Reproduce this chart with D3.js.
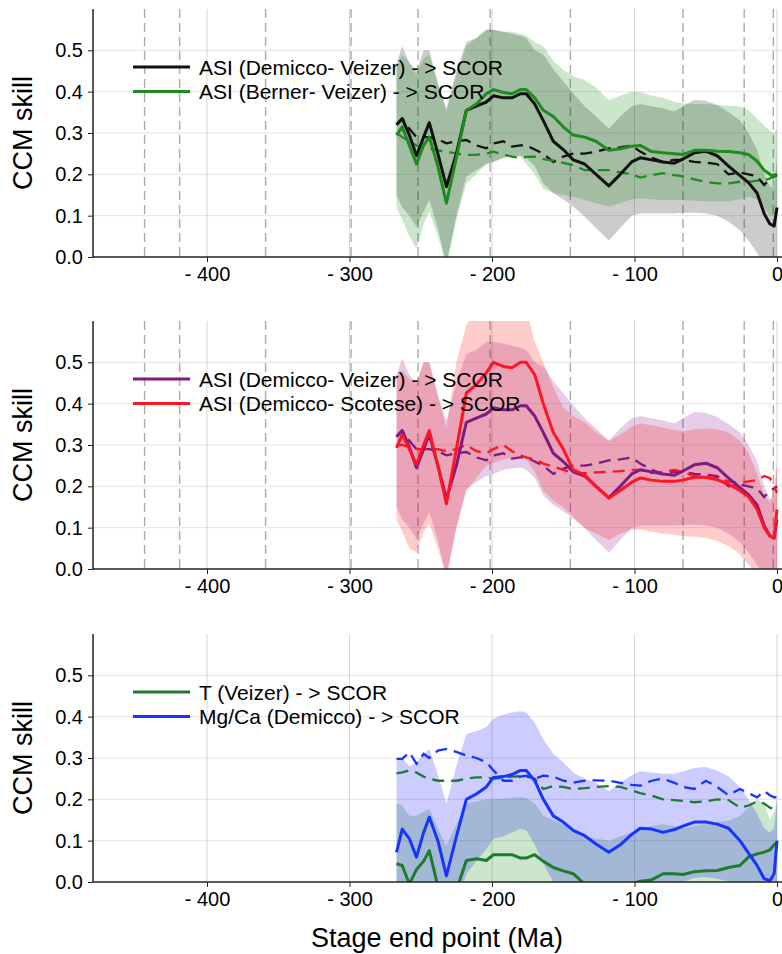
<!DOCTYPE html>
<html>
<head>
<meta charset="utf-8">
<script src="https://cdn.jsdelivr.net/npm/d3@7"></script>
<style>
  body { margin: 0; background: #fff; }
  svg { display: block; font-family: "Liberation Sans", Arial, Helvetica, sans-serif; }
</style>
</head>
<body>
<svg width="782" height="954"></svg>
<script>
// stage end points (Ma, negative = before present)
var stageEnd = [-267, -263, -258, -253, -248, -244, -238, -232, -225, -218,
  -211, -204, -199, -192, -186, -180, -176, -170, -164, -157,
  -150, -143, -135, -127, -118, -110, -102, -96, -88, -80,
  -72, -66, -58, -50, -42, -34, -26, -20, -14, -9,
  -5, -2, 0];

// period boundaries drawn as dashed verticals (top two panels)
var boundaries = [-443.8, -419.2, -358.9, -298.9, -251.9, -201.3, -145.0, -66.0, -23.03, -2.58];

var yTicks = [0, 0.1, 0.2, 0.3, 0.4, 0.5];
var xTicks = [-400, -300, -200, -100, 0];

// ASI (Demicco- Veizer) -> SCOR : skill, null (dashed), band low/high
var dvSkill = [0.32, 0.335, 0.295, 0.245, 0.29, 0.325, 0.25, 0.17, 0.25, 0.355,
  0.365, 0.375, 0.39, 0.385, 0.385, 0.395, 0.395, 0.37, 0.33, 0.28,
  0.26, 0.235, 0.225, 0.2, 0.172, 0.2, 0.23, 0.24, 0.235, 0.23,
  0.227, 0.237, 0.252, 0.256, 0.245, 0.22, 0.197, 0.18, 0.155, 0.105,
  0.08, 0.075, 0.12];
var dvNull = [0.32, 0.335, 0.31, 0.29, 0.29, 0.29, 0.285, 0.275, 0.28, 0.283,
  0.27, 0.263, 0.275, 0.28, 0.267, 0.27, 0.27, 0.26, 0.25, 0.23,
  0.243, 0.25, 0.25, 0.255, 0.263, 0.265, 0.27, 0.255, 0.24, 0.23,
  0.235, 0.235, 0.23, 0.228, 0.225, 0.2, 0.204, 0.2, 0.195, 0.174,
  0.19, 0.195, 0.2];
var dvLo = [0.15, 0.12, 0.1, 0.073, 0.11, 0.138, 0.07, -0.02, 0.1, 0.195,
  0.21, 0.225, 0.23, 0.24, 0.243, 0.245, 0.24, 0.22, 0.178, 0.155,
  0.14, 0.122, 0.098, 0.07, 0.04, 0.07, 0.1, 0.105, 0.105, 0.105,
  0.105, 0.107, 0.107, 0.105, 0.1, 0.085, 0.065, 0.04, 0.01, -0.02,
  -0.04, -0.04, 0.0];
var dvHi = [0.47, 0.51, 0.47, 0.45, 0.5, 0.5, 0.42, 0.36, 0.45, 0.52,
  0.53, 0.55, 0.55, 0.545, 0.54, 0.535, 0.53, 0.5, 0.49, 0.455,
  0.425, 0.396, 0.365, 0.34, 0.31, 0.34, 0.365, 0.37, 0.365, 0.36,
  0.352, 0.365, 0.38, 0.378, 0.368, 0.35, 0.33, 0.3, 0.26, 0.2,
  0.17, 0.17, 0.24];

// ASI (Berner- Veizer) -> SCOR
var bvSkill = [0.295, 0.315, 0.27, 0.225, 0.27, 0.29, 0.22, 0.13, 0.24, 0.355,
  0.37, 0.395, 0.405, 0.398, 0.395, 0.405, 0.405, 0.385, 0.355, 0.34,
  0.315, 0.295, 0.29, 0.28, 0.258, 0.262, 0.268, 0.27, 0.255, 0.252,
  0.25, 0.248, 0.258, 0.258, 0.256, 0.255, 0.252, 0.248, 0.232, 0.21,
  0.2, 0.195, 0.197];
var bvNull = [0.3, 0.29, 0.28, 0.27, 0.265, 0.262, 0.258, 0.255, 0.25, 0.247,
  0.247, 0.25, 0.255, 0.248, 0.243, 0.24, 0.242, 0.243, 0.237, 0.233,
  0.228, 0.222, 0.21, 0.21, 0.21, 0.205, 0.2, 0.192, 0.198, 0.203,
  0.198, 0.195, 0.188, 0.182, 0.178, 0.178, 0.182, 0.182, 0.185, 0.185,
  0.19, 0.2, 0.2];
var bvLo = [0.12, 0.09, 0.05, 0.02, 0.08, 0.11, 0.05, -0.02, 0.09, 0.178,
  0.2, 0.225, 0.23, 0.24, 0.243, 0.243, 0.225, 0.2, 0.165, 0.155,
  0.15, 0.146, 0.138, 0.13, 0.122, 0.13, 0.14, 0.142, 0.14, 0.138,
  0.138, 0.138, 0.136, 0.134, 0.134, 0.134, 0.14, 0.146, 0.14, 0.12,
  0.1, 0.1, 0.12];
var bvHi = [0.46, 0.49, 0.47, 0.44, 0.48, 0.49, 0.42, 0.35, 0.44, 0.51,
  0.53, 0.55, 0.55, 0.545, 0.545, 0.54, 0.535, 0.52, 0.51, 0.475,
  0.453, 0.437, 0.428, 0.41, 0.38, 0.39, 0.4, 0.4, 0.39, 0.385,
  0.375, 0.372, 0.37, 0.37, 0.368, 0.366, 0.364, 0.355, 0.335, 0.318,
  0.305, 0.3, 0.31];

// ASI (Demicco- Scotese) -> SCOR
var dsSkill = [0.293, 0.325, 0.29, 0.253, 0.3, 0.335, 0.25, 0.158, 0.29, 0.426,
  0.446, 0.475, 0.5, 0.49, 0.487, 0.5, 0.5, 0.47, 0.4, 0.33,
  0.29, 0.24, 0.228, 0.2, 0.172, 0.19, 0.21, 0.22, 0.215, 0.212,
  0.212, 0.215, 0.222, 0.222, 0.216, 0.205, 0.19, 0.175, 0.145, 0.1,
  0.08, 0.075, 0.144];
var dsNull = [0.3, 0.3, 0.295, 0.29, 0.29, 0.29, 0.29, 0.285, 0.29, 0.3,
  0.285, 0.28, 0.29, 0.3, 0.285, 0.275, 0.27, 0.265, 0.255, 0.248,
  0.24, 0.232, 0.232, 0.234, 0.235, 0.237, 0.24, 0.24, 0.232, 0.235,
  0.24, 0.235, 0.225, 0.222, 0.22, 0.212, 0.208, 0.212, 0.215, 0.225,
  0.22, 0.2, 0.184];
var dsLo = [0.12, 0.09, 0.05, 0.04, 0.09, 0.11, 0.05, -0.02, 0.1, 0.188,
  0.22, 0.25, 0.257, 0.265, 0.27, 0.273, 0.265, 0.235, 0.19, 0.165,
  0.15, 0.125, 0.1, 0.085, 0.07, 0.085, 0.095, 0.095, 0.09, 0.085,
  0.083, 0.08, 0.078, 0.075, 0.068, 0.055, 0.035, 0.01, -0.01, -0.03,
  -0.04, -0.04, 0.0];
var dsHi = [0.47, 0.48, 0.46, 0.45, 0.5, 0.5, 0.42, 0.34, 0.5, 0.59,
  0.63, 0.65, 0.66, 0.66, 0.66, 0.65, 0.63, 0.55, 0.5, 0.44,
  0.39, 0.37, 0.355, 0.33, 0.31, 0.325, 0.345, 0.352, 0.348, 0.342,
  0.336, 0.333, 0.338, 0.34, 0.338, 0.33, 0.31, 0.28, 0.23, 0.18,
  0.16, 0.2, 0.26];

// T (Veizer) -> SCOR
var tvSkill = [0.044, 0.04, -0.005, 0.03, 0.05, 0.076, -0.01, -0.05, -0.02, 0.052,
  0.056, 0.052, 0.066, 0.066, 0.066, 0.058, 0.058, 0.066, 0.05, 0.035,
  0.027, 0.02, -0.005, -0.01, -0.01, -0.01, -0.005, 0.002, 0.005, 0.02,
  0.02, 0.018, 0.025, 0.027, 0.028, 0.035, 0.04, 0.06, 0.068, 0.072,
  0.078, 0.09, 0.096];
var tvNull = [0.263, 0.265, 0.27, 0.265, 0.255, 0.25, 0.245, 0.245, 0.245, 0.25,
  0.253, 0.253, 0.25, 0.252, 0.255, 0.256, 0.255, 0.25, 0.225, 0.232,
  0.23, 0.225, 0.227, 0.23, 0.232, 0.23, 0.222, 0.215, 0.209, 0.2,
  0.198, 0.196, 0.193, 0.195, 0.2, 0.198, 0.18, 0.185, 0.195, 0.19,
  0.18, 0.177, 0.18];
var tvLo = [-0.1, -0.1, -0.12, -0.1, -0.09, -0.07, -0.1, -0.14, -0.12, -0.08,
  -0.08, -0.09, -0.07, -0.07, -0.07, -0.08, -0.08, -0.07, -0.06, -0.08,
  -0.08, -0.08, -0.1, -0.1, -0.1, -0.1, -0.1, -0.1, -0.1, -0.09,
  -0.09, -0.09, -0.08, -0.08, -0.08, -0.08, -0.08, -0.06, -0.06, -0.05,
  -0.04, -0.03, -0.02];
var tvHi = [0.19, 0.185, 0.16, 0.16, 0.17, 0.177, 0.13, 0.088, 0.14, 0.19,
  0.195, 0.2, 0.2, 0.202, 0.204, 0.205, 0.203, 0.19, 0.16, 0.15,
  0.14, 0.125, 0.11, 0.105, 0.1, 0.11, 0.12, 0.128, 0.135, 0.14,
  0.135, 0.13, 0.135, 0.14, 0.145, 0.148, 0.16, 0.18, 0.2, 0.19,
  0.15, 0.17, 0.2];

// Mg/Ca (Demicco) -> SCOR
var mgSkill = [0.072, 0.128, 0.105, 0.06, 0.12, 0.157, 0.1, 0.015, 0.11, 0.2,
  0.213, 0.23, 0.253, 0.255, 0.26, 0.27, 0.27, 0.245, 0.2, 0.16,
  0.145, 0.125, 0.112, 0.092, 0.072, 0.09, 0.115, 0.13, 0.128, 0.12,
  0.127, 0.135, 0.145, 0.145, 0.14, 0.13, 0.1, 0.07, 0.04, 0.008,
  0.003, 0.02, 0.1];
var mgNull = [0.298, 0.298, 0.314, 0.286, 0.31, 0.3, 0.318, 0.322, 0.315, 0.306,
  0.3, 0.29, 0.27, 0.245, 0.245, 0.255, 0.257, 0.25, 0.257, 0.255,
  0.245, 0.24, 0.245, 0.246, 0.245, 0.24, 0.235, 0.233, 0.245, 0.25,
  0.24, 0.23, 0.225, 0.245, 0.23, 0.21, 0.225, 0.215, 0.205, 0.22,
  0.21, 0.205, 0.205];
var mgLo = [-0.15, -0.05, -0.07, -0.17, -0.07, -0.01, -0.06, -0.16, -0.06, 0.02,
  0.05, 0.08, 0.105, 0.11, 0.12, 0.128, 0.125, 0.09, 0.045, 0.0,
  -0.02, -0.03, -0.04, -0.05, -0.08, -0.06, -0.03, -0.01, -0.01, -0.02,
  -0.01, 0.0, 0.01, 0.012, 0.008, 0.002, -0.03, -0.06, -0.09, -0.11,
  -0.11, -0.09, 0.0];
var mgHi = [0.294, 0.3, 0.28, 0.29, 0.31, 0.322, 0.26, 0.19, 0.28, 0.358,
  0.365, 0.375, 0.395, 0.405, 0.41, 0.413, 0.41, 0.385, 0.345, 0.31,
  0.29, 0.265, 0.25, 0.24, 0.22, 0.24, 0.258, 0.268, 0.265, 0.262,
  0.262, 0.268, 0.276, 0.278, 0.27, 0.255, 0.23, 0.2, 0.165, 0.13,
  0.12, 0.13, 0.2];

var panels = [
  { top: 9, bounds: true, series: [
    { label: "ASI (Demicco- Veizer) - > SCOR", color: "#111111", band: "rgba(0,0,0,0.2)",
      skill: dvSkill, nul: dvNull, lo: dvLo, hi: dvHi },
    { label: "ASI (Berner- Veizer) - > SCOR", color: "#1f8a1f", band: "rgba(0,128,0,0.2)",
      skill: bvSkill, nul: bvNull, lo: bvLo, hi: bvHi }
  ]},
  { top: 321, bounds: true, series: [
    { label: "ASI (Demicco- Veizer) - > SCOR", color: "#7e1a80", band: "rgba(128,0,128,0.2)",
      skill: dvSkill, nul: dvNull, lo: dvLo, hi: dvHi },
    { label: "ASI (Demicco- Scotese) - > SCOR", color: "#ff1424", band: "rgba(255,0,0,0.2)",
      skill: dsSkill, nul: dsNull, lo: dsLo, hi: dsHi }
  ]},
  { top: 634, bounds: false, series: [
    { label: "T (Veizer) - > SCOR", color: "#1f7a30", band: "rgba(0,128,0,0.2)",
      skill: tvSkill, nul: tvNull, lo: tvLo, hi: tvHi },
    { label: "Mg/Ca (Demicco) - > SCOR", color: "#1633ff", band: "rgba(0,0,255,0.2)",
      skill: mgSkill, nul: mgNull, lo: mgLo, hi: mgHi }
  ]}
];

var svg = d3.select("svg");
var W = 782;
var left = 93;
var plotHeight = 248;

var x = d3.scaleLinear().domain([-480, 3.5]).range([left, W]);
var y = d3.scaleLinear().domain([0, 0.6]).range([plotHeight, 0]);

function translate(a, b) {
  return "translate(" + a + "," + b + ")";
}

function rows(s) {
  return stageEnd.map(function(t, i) {
    return { t: t, v: s.skill[i], n: s.nul[i], lo: s.lo[i], hi: s.hi[i] };
  });
}

var area = d3.area()
  .x(function(d) { return x(d.t); })
  .y0(function(d) { return y(d.lo); })
  .y1(function(d) { return y(d.hi); });

var solid = d3.line()
  .x(function(d) { return x(d.t); })
  .y(function(d) { return y(d.v); });

var dashed = d3.line()
  .x(function(d) { return x(d.t); })
  .y(function(d) { return y(d.n); });

panels.forEach(function(p, k) {
  var g = svg.append("g").attr("transform", translate(0, p.top));

  g.append("clipPath").attr("id", "clip" + k)
    .append("rect")
    .attr("x", left).attr("y", 0)
    .attr("width", W - left).attr("height", plotHeight);

  // grid
  g.append("g").selectAll("line.h")
    .data(yTicks.slice(1)).enter()
    .append("line")
    .attr("x1", left).attr("x2", W)
    .attr("y1", function(d) { return y(d); })
    .attr("y2", function(d) { return y(d); })
    .attr("stroke", "#e4e4e4").attr("stroke-width", 1);

  g.append("g").selectAll("line.v")
    .data(xTicks).enter()
    .append("line")
    .attr("x1", function(d) { return x(d); })
    .attr("x2", function(d) { return x(d); })
    .attr("y1", 0).attr("y2", plotHeight)
    .attr("stroke", "#d6d6d6").attr("stroke-width", 1);

  if (p.bounds) {
    g.append("g").selectAll("line")
      .data(boundaries).enter()
      .append("line")
      .attr("x1", function(d) { return x(d); })
      .attr("x2", function(d) { return x(d); })
      .attr("y1", 0).attr("y2", plotHeight)
      .attr("stroke", "#ababab").attr("stroke-width", 1.4)
      .attr("stroke-dasharray", "9,5");
  }

  var plot = g.append("g").attr("clip-path", "url(#clip" + k + ")");

  p.series.forEach(function(s) {
    plot.append("path")
      .datum(rows(s))
      .attr("d", area)
      .attr("fill", s.band)
      .attr("stroke", "none");
  });

  p.series.forEach(function(s) {
    plot.append("path")
      .datum(rows(s))
      .attr("d", dashed)
      .attr("fill", "none")
      .attr("stroke", s.color)
      .attr("stroke-width", 2.3)
      .attr("stroke-dasharray", "12,7");
  });

  p.series.forEach(function(s) {
    plot.append("path")
      .datum(rows(s))
      .attr("d", solid)
      .attr("fill", "none")
      .attr("stroke", s.color)
      .attr("stroke-width", 3)
      .attr("stroke-linejoin", "round");
  });

  // axes
  var yAxis = d3.axisLeft(y).tickValues(yTicks)
    .tickFormat(d3.format(".1f")).tickSize(5).tickPadding(5);
  var xAxis = d3.axisBottom(x).tickValues(xTicks)
    .tickFormat(function(d) { return d === 0 ? "0" : "- " + Math.abs(d); })
    .tickSize(5).tickPadding(5);

  var ya = g.append("g").attr("transform", translate(left, 0)).call(yAxis);
  var xa = g.append("g").attr("transform", translate(0, plotHeight)).call(xAxis);

  [ya, xa].forEach(function(a) {
    a.select(".domain").attr("stroke", "#222").attr("stroke-width", 1.5);
    a.selectAll(".tick line").attr("stroke", "#222");
    a.selectAll("text").attr("fill", "#000")
      .style("font-size", "20px")
      .style("font-family", "'Liberation Sans', Arial, Helvetica, sans-serif");
  });
  ya.select(".domain").attr("d", "M0," + plotHeight + "V0");
  xa.select(".domain").attr("d", "M" + left + ",0H" + W);

  g.append("text")
    .attr("transform", "translate(32," + (plotHeight / 2) + ") rotate(-90)")
    .attr("text-anchor", "middle")
    .style("font-size", "27px")
    .text("CCM skill");

  // legend
  var leg = g.append("g").selectAll("g")
    .data(p.series).enter()
    .append("g")
    .attr("transform", function(d, i) { return translate(0, 58 + i * 24.5); });

  leg.append("line")
    .attr("x1", 133).attr("x2", 190)
    .attr("y1", 0).attr("y2", 0)
    .attr("stroke", function(d) { return d.color; })
    .attr("stroke-width", 3);

  leg.append("text")
    .attr("x", 199).attr("y", 0)
    .attr("dy", "0.36em")
    .style("font-size", "21px")
    .text(function(d) { return d.label; });
});

svg.append("text")
  .attr("x", 437).attr("y", 947)
  .attr("text-anchor", "middle")
  .style("font-size", "27px")
  .text("Stage end point (Ma)");
</script>
</body>
</html>
